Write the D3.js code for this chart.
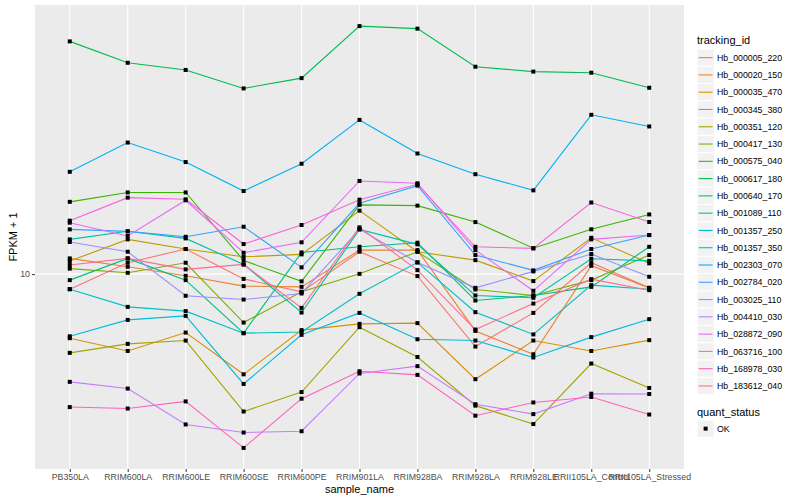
<!DOCTYPE html>
<html>
<head>
<meta charset="utf-8">
<script src="https://cdn.jsdelivr.net/npm/d3@7"></script>
<style>
body { margin: 0; background: #fff; }
text { font-family: "Liberation Sans", Arial, sans-serif; }
</style>
</head>
<body>
<svg width="800" height="500"></svg>
<script>
const samples = ['PB350LA', 'RRIM600LA', 'RRIM600LE', 'RRIM600SE', 'RRIM600PE', 'RRIM901LA',
	'RRIM928BA', 'RRIM928LA', 'RRIM928LE', 'RRII105LA_Control', 'RRII105LA_Stressed'];
const trackingIds = ['Hb_000005_220', 'Hb_000020_150', 'Hb_000035_470', 'Hb_000345_380', 'Hb_000351_120',
	'Hb_000417_130', 'Hb_000575_040', 'Hb_000617_180', 'Hb_000640_170', 'Hb_001089_110', 'Hb_001357_250',
	'Hb_001357_350', 'Hb_002303_070', 'Hb_002784_020', 'Hb_003025_110', 'Hb_004410_030', 'Hb_028872_090',
	'Hb_063716_100', 'Hb_168978_030', 'Hb_183612_040'];
const colors = ['#F8766D', '#EA8331', '#D89000', '#C09B00', '#A3A500', '#7CAE00', '#39B600', '#00BB4E',
	'#00BF7D', '#00C1A3', '#00BFC4', '#00BAE0', '#00B0F6', '#35A2FF', '#9590FF', '#C77CFF', '#E76BF3',
	'#FA62DB', '#FF62BC', '#FF6C91'];

// FPKM + 1 per sample
const hb_000005_220 = [8.91, 10.91, 12.12, 9.64, 8.73, 11.87, 9.85, 5.74, 7.43, 10.91, 9.0];
const hb_000020_150 = [11.28, 10.58, 9.87, 9.12, 9.07, 12.02, 12.02, 6.47, 5.41, 10.66, 9.0];
const hb_000035_470 = [6.12, 5.55, 6.39, 4.64, 6.51, 6.83, 6.87, 4.47, 6.01, 5.55, 6.03];
const hb_000345_380 = [11.05, 13.05, 12.12, 11.42, 11.63, 16.26, 11.87, 11.13, 9.48, 13.21, 10.86];
const hb_000351_120 = [5.47, 5.86, 6.01, 3.49, 4.05, 6.66, 5.3, 3.65, 3.17, 5.04, 4.18];
const hb_000417_130 = [10.43, 10.1, 10.91, 6.9, 8.73, 10.02, 11.87, 8.89, 8.49, 9.55, 11.57];
const hb_000575_040 = [17.4, 18.7, 18.7, 11.1, 9.46, 17.0, 16.9, 14.9, 12.2, 14.1, 15.8];
const hb_000617_180 = [59.5, 50.5, 47.8, 41.5, 44.9, 66.9, 65.6, 49.0, 47.2, 46.8, 41.7];
const hb_000640_170 = [9.55, 11.28, 9.55, 6.36, 11.81, 12.33, 12.72, 8.17, 8.49, 9.07, 12.33];
const hb_001089_110 = [13.05, 13.88, 13.15, 10.77, 7.45, 14.09, 12.56, 8.49, 8.34, 11.25, 11.07];
const hb_001357_250 = [8.91, 7.78, 7.53, 6.36, 6.42, 8.6, 10.94, 7.47, 6.3, 9.19, 8.91];
const hb_001357_350 = [6.21, 7.04, 7.26, 4.31, 6.28, 7.43, 6.07, 6.01, 5.28, 6.17, 7.08];
const hb_002303_070 = [21.9, 27.4, 23.6, 18.9, 23.3, 32.6, 25.2, 21.5, 19.0, 33.9, 31.0];
const hb_002784_020 = [14.09, 13.88, 13.31, 14.38, 10.53, 17.21, 19.7, 11.57, 10.29, 12.12, 13.49];
const hb_003025_110 = [12.79, 11.87, 8.47, 8.23, 8.62, 14.09, 10.94, 9.0, 10.21, 11.66, 9.8];
const hb_004410_030 = [4.38, 4.16, 3.16, 2.97, 3.0, 4.67, 4.94, 3.69, 3.42, 4.0, 3.99];
const hb_028872_090 = [14.83, 13.39, 17.61, 11.78, 12.76, 20.42, 20.06, 12.02, 8.8, 13.05, 13.49];
const hb_063716_100 = [15.06, 17.97, 17.74, 12.59, 14.57, 17.69, 19.91, 12.33, 12.18, 17.31, 14.91];
const hb_168978_030 = [3.61, 3.57, 3.77, 2.64, 3.85, 4.75, 4.62, 3.38, 3.74, 3.9, 3.41];
const hb_183612_040 = [10.72, 11.28, 10.37, 10.77, 7.72, 14.31, 10.31, 6.54, 7.98, 9.62, 8.84];

const series = [hb_000005_220, hb_000020_150, hb_000035_470, hb_000345_380, hb_000351_120,
	hb_000417_130, hb_000575_040, hb_000617_180, hb_000640_170, hb_001089_110, hb_001357_250,
	hb_001357_350, hb_002303_070, hb_002784_020, hb_003025_110, hb_004410_030, hb_028872_090,
	hb_063716_100, hb_168978_030, hb_183612_040];
const yTicks = [10];

const panelLeft = 35,
	panelRight = 684,
	panelTop = 5,
	panelBottom = 469;
const svg = d3.select('svg');

const x = d3.scalePoint().domain(samples).range([ panelLeft, panelRight ]).padding(0.6);
const ext = d3.extent(series.flat()).map(Math.log10);
const pad = (ext[1] - ext[0]) * 0.05;
const y = d3.scaleLog().domain([ Math.pow(10, ext[0] - pad), Math.pow(10, ext[1] + pad) ]).range([ panelBottom, panelTop ]);

// panel + grid
svg.append('rect').attr('x', panelLeft).attr('y', panelTop)
	.attr('width', panelRight - panelLeft).attr('height', panelBottom - panelTop).attr('fill', '#EBEBEB');
svg.append('g').selectAll('line').data(yTicks).enter().append('line')
	.attr('x1', panelLeft).attr('x2', panelRight).attr('y1', (d) => y(d)).attr('y2', (d) => y(d))
	.attr('stroke', '#fff').attr('stroke-width', 1.1);
svg.append('g').selectAll('line').data(samples).enter().append('line')
	.attr('x1', (d) => x(d)).attr('x2', (d) => x(d)).attr('y1', panelTop).attr('y2', panelBottom)
	.attr('stroke', '#fff').attr('stroke-width', 1.1);

// axes
const yAxis = d3.axisLeft(y).tickValues(yTicks).tickFormat(d3.format('d')).tickSize(3).tickPadding(2);
const gy = svg.append('g').attr('transform', 'translate(' + panelLeft + ',0)').call(yAxis);
const xAxis = d3.axisBottom(x).tickSize(3).tickPadding(2);
const gx = svg.append('g').attr('transform', 'translate(0,' + panelBottom + ')').call(xAxis);
[ gx, gy ].forEach((g) => {
	g.select('.domain').remove();
	g.selectAll('.tick line').attr('stroke', '#333').attr('stroke-width', 1);
	g.selectAll('.tick text').attr('fill', '#4D4D4D').attr('font-size', '8.8px')
		.attr('font-family', '"Liberation Sans", Arial, sans-serif');
});

svg.append('text').attr('x', (panelLeft + panelRight) / 2).attr('y', 493).attr('text-anchor', 'middle')
	.attr('font-size', '11px').text('sample_name');
svg.append('text').attr('transform', 'rotate(-90)').attr('x', -(panelTop + panelBottom) / 2).attr('y', 17)
	.attr('text-anchor', 'middle').attr('font-size', '11px').text('FPKM + 1');

// lines + points
const line = d3.line().x((d, i) => x(samples[i])).y((d) => y(d));
svg.append('g').selectAll('path').data(series).enter().append('path')
	.attr('d', line).attr('fill', 'none').attr('stroke', (d, i) => colors[i]).attr('stroke-width', 1.1);
series.forEach((s) => {
	svg.append('g').selectAll('rect').data(s).enter().append('rect')
		.attr('x', (d, i) => x(samples[i]) - 2).attr('y', (d) => y(d) - 2)
		.attr('width', 4).attr('height', 4).attr('fill', '#000');
});

// legend
const lg = svg.append('g').attr('transform', 'translate(697,0)');
lg.append('text').attr('x', 0).attr('y', 44).attr('font-size', '11px').text('tracking_id');
const keys = lg.selectAll('.key').data(trackingIds).enter().append('g')
	.attr('transform', (d, i) => 'translate(0,' + (49 + i * 17.28) + ')');
keys.append('rect').attr('width', 17.28).attr('height', 17.28).attr('fill', '#F2F2F2').attr('stroke', '#fff');
keys.append('line').attr('x1', 1.7).attr('x2', 15.6).attr('y1', 8.64).attr('y2', 8.64)
	.attr('stroke', (d, i) => colors[i]).attr('stroke-width', 1.1);
keys.append('text').attr('x', 20).attr('y', 11.8).attr('font-size', '8.8px').text((d) => d);

lg.append('text').attr('x', 0).attr('y', 416).attr('font-size', '11px').text('quant_status');
const ok = lg.append('g').attr('transform', 'translate(0,420)');
ok.append('rect').attr('width', 17.28).attr('height', 17.28).attr('fill', '#F2F2F2').attr('stroke', '#fff');
ok.append('rect').attr('x', 6.64).attr('y', 6.64).attr('width', 4).attr('height', 4).attr('fill', '#000');
ok.append('text').attr('x', 20).attr('y', 11.8).attr('font-size', '8.8px').text('OK');
</script>
</body>
</html>
